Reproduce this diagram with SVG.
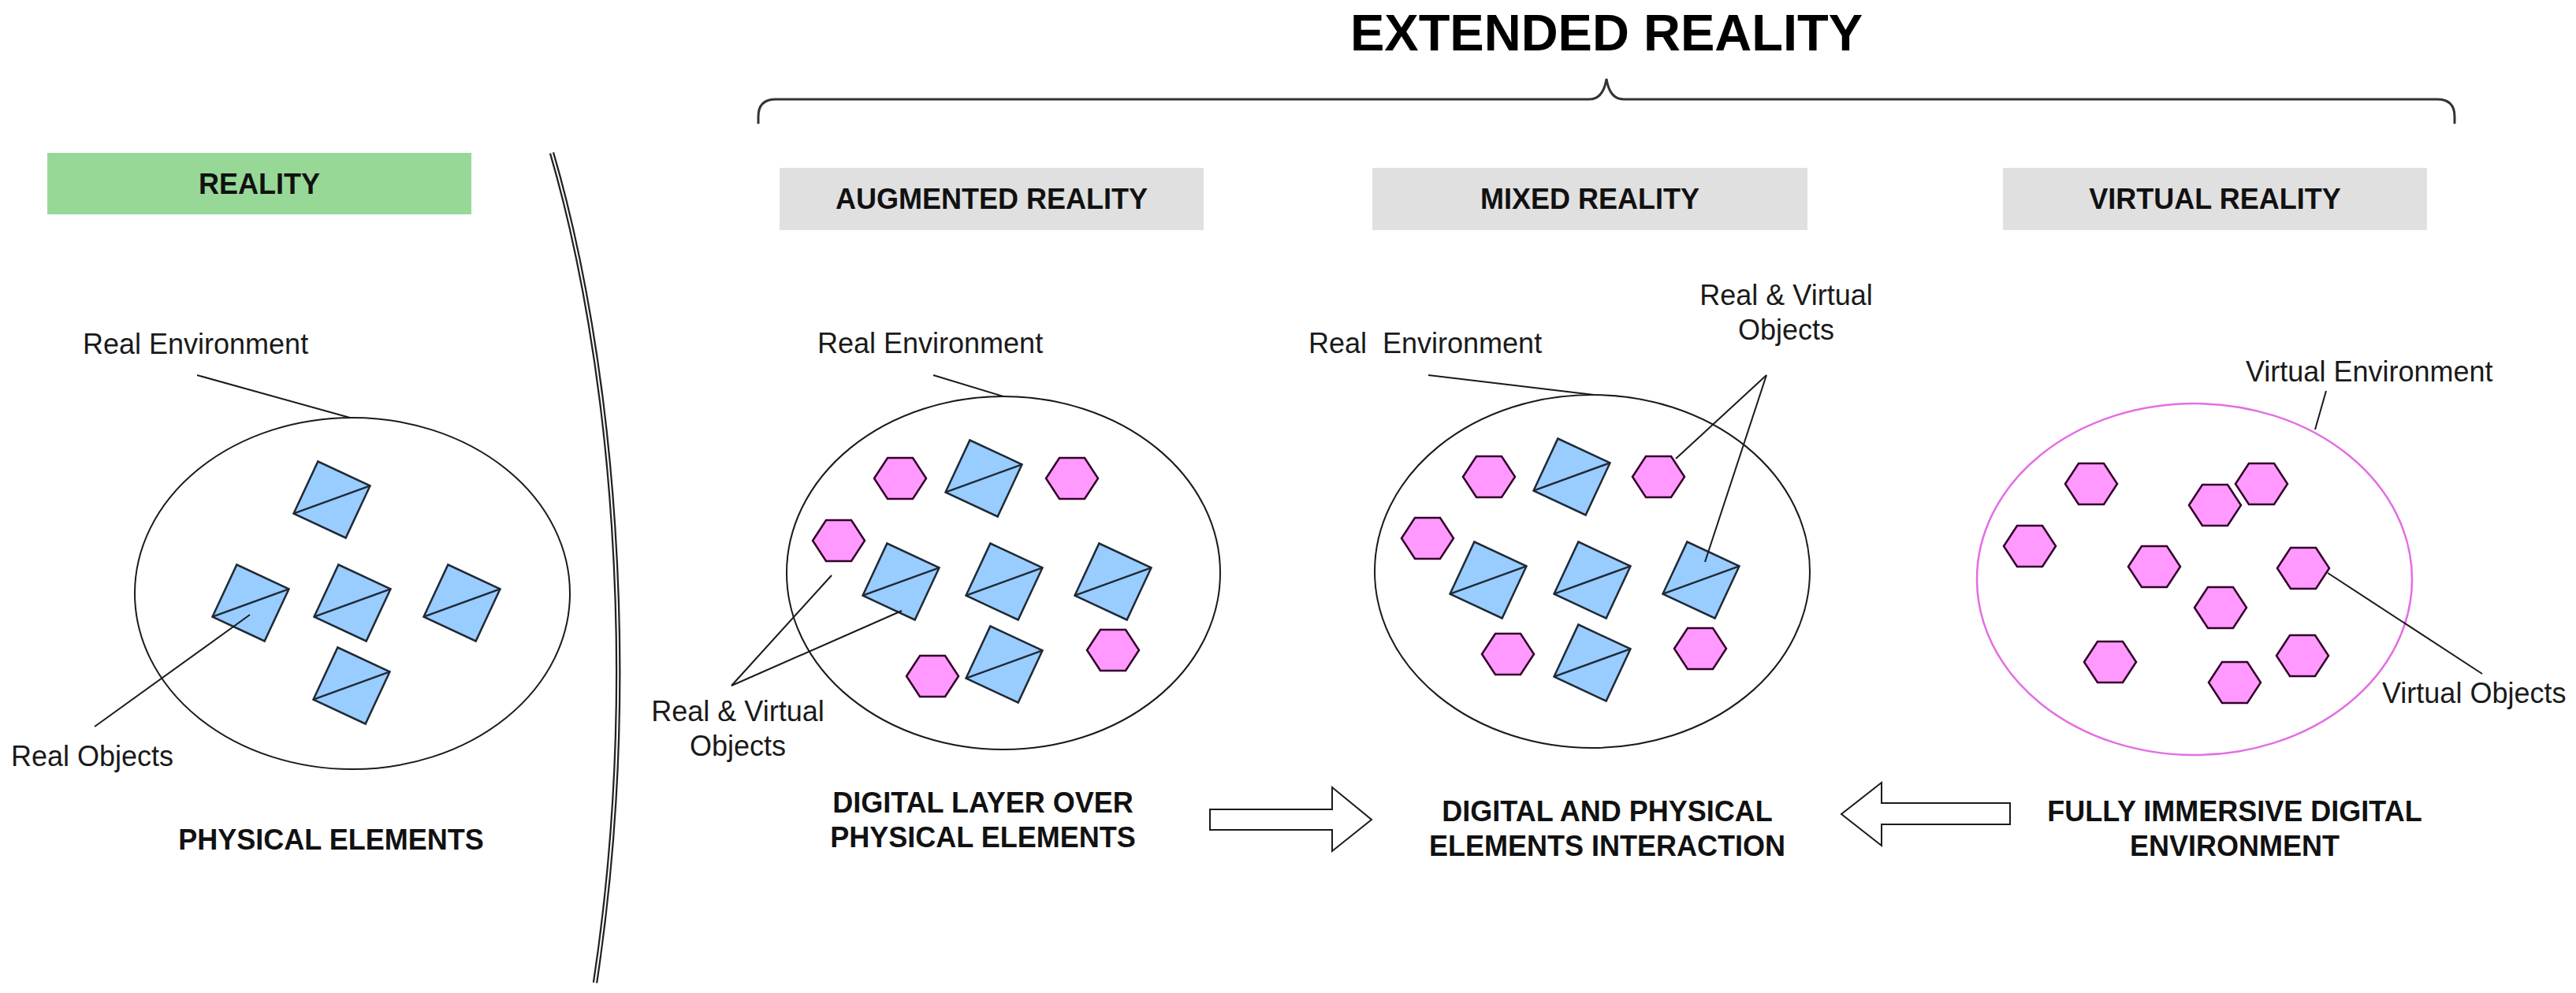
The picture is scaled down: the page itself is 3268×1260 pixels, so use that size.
<svg xmlns="http://www.w3.org/2000/svg" xmlns:xlink="http://www.w3.org/1999/xlink" width="3268" height="1260" viewBox="0 0 3268 1260">
<style>
text{font-family:"Liberation Sans",Arial,sans-serif;}
.lbl{font-size:36px;fill:#1a1a1a;}
.hdr{font-size:36px;font-weight:bold;fill:#111;text-anchor:middle;}
.ttl{font-size:65px;font-weight:bold;fill:#000;text-anchor:middle;}
.env{fill:none;stroke:#1a1a1a;stroke-width:2;}
.venv{fill:none;stroke:#e36ee3;stroke-width:2.5;}
.lead{stroke:#1a1a1a;stroke-width:2;fill:none;}
.sq rect{fill:#99ccff;stroke:#1f2a36;stroke-width:2.5;}
.sq line{stroke:#1f2a36;stroke-width:2.5;}
.hex{fill:#ff99ff;stroke:#33002a;stroke-width:2.5;}
.arr{fill:#fff;stroke:#1a1a1a;stroke-width:2;}
</style>
<defs>
<g id="sqs" class="sq"><rect x="-36.5" y="-36.5" width="73" height="73"/><line x1="-36.5" y1="36.5" x2="36.5" y2="-36.5"/></g>
<polygon id="hx" class="hex" points="-33,0 -16,-26 16,-26 33,0 16,26 -16,26"/>
</defs>
<rect width="3268" height="1260" fill="#fff"/>

<g id="title">
<text class="ttl" x="2038" y="64">EXTENDED REALITY</text>
<path d="M962,157 L962,148 Q962,126 984,126 L2016,126 Q2034,126 2038,100 Q2042,126 2060,126 L3092,126 Q3114,126 3114,148 L3114,157" fill="none" stroke="#333" stroke-width="3"/>
</g>

<g id="divider">
<path d="M700,194 C775,450 815,850 755,1247" fill="none" stroke="#222" stroke-width="6.5"/>
<path d="M700,194 C775,450 815,850 755,1247" fill="none" stroke="#fff" stroke-width="2"/>
</g>

<g id="reality">
<rect x="60" y="194" width="538" height="78" fill="#97d897"/>
<text class="hdr" x="329" y="246">REALITY</text>
<text class="lbl" x="105" y="449">Real Environment</text>
<ellipse class="env" cx="447" cy="753" rx="276" ry="223"/>
<use xlink:href="#sqs" transform="translate(421,634) rotate(25)"/>
<use xlink:href="#sqs" transform="translate(318,765) rotate(25)"/>
<use xlink:href="#sqs" transform="translate(447,765) rotate(25)"/>
<use xlink:href="#sqs" transform="translate(586,765) rotate(25)"/>
<use xlink:href="#sqs" transform="translate(446,870) rotate(25)"/>
<text class="lbl" x="14" y="972">Real Objects</text>
<text class="hdr" x="420" y="1078">PHYSICAL ELEMENTS</text>
</g>

<g id="augmented">
<rect x="989" y="213" width="538" height="79" fill="#e0e0e0"/>
<text class="hdr" x="1258" y="265">AUGMENTED REALITY</text>
<text class="lbl" x="1037" y="448">Real Environment</text>
<ellipse class="env" cx="1273" cy="727" rx="275" ry="224"/>
<use xlink:href="#hx" x="1142" y="607"/>
<use xlink:href="#hx" x="1360" y="607"/>
<use xlink:href="#hx" x="1064" y="686"/>
<use xlink:href="#hx" x="1183" y="858"/>
<use xlink:href="#hx" x="1412" y="825"/>
<use xlink:href="#sqs" transform="translate(1248,607) rotate(25)"/>
<use xlink:href="#sqs" transform="translate(1143,738) rotate(25)"/>
<use xlink:href="#sqs" transform="translate(1274,738) rotate(25)"/>
<use xlink:href="#sqs" transform="translate(1412,738) rotate(25)"/>
<use xlink:href="#sqs" transform="translate(1274,843) rotate(25)"/>
<text class="lbl" x="936" y="915" text-anchor="middle">Real &amp; Virtual</text>
<text class="lbl" x="936" y="959" text-anchor="middle">Objects</text>
<text class="hdr" x="1247" y="1031">DIGITAL LAYER OVER</text>
<text class="hdr" x="1247" y="1075">PHYSICAL ELEMENTS</text>
</g>

<g id="mixed">
<rect x="1741" y="213" width="552" height="79" fill="#e0e0e0"/>
<text class="hdr" x="2017" y="265">MIXED REALITY</text>
<text class="lbl" x="1660" y="448" xml:space="preserve">Real  Environment</text>
<text class="lbl" x="2266" y="387" text-anchor="middle">Real &amp; Virtual</text>
<text class="lbl" x="2266" y="431" text-anchor="middle">Objects</text>
<ellipse class="env" cx="2020" cy="725" rx="276" ry="224"/>
<use xlink:href="#hx" x="1889" y="605"/>
<use xlink:href="#hx" x="2104" y="605"/>
<use xlink:href="#hx" x="1811" y="683"/>
<use xlink:href="#hx" x="1913" y="830"/>
<use xlink:href="#hx" x="2157" y="823"/>
<use xlink:href="#sqs" transform="translate(1994,605) rotate(25)"/>
<use xlink:href="#sqs" transform="translate(1888,736) rotate(25)"/>
<use xlink:href="#sqs" transform="translate(2020,736) rotate(25)"/>
<use xlink:href="#sqs" transform="translate(2158,736) rotate(25)"/>
<use xlink:href="#sqs" transform="translate(2020,841) rotate(25)"/>
<text class="hdr" x="2039" y="1042">DIGITAL AND PHYSICAL</text>
<text class="hdr" x="2039" y="1086">ELEMENTS INTERACTION</text>
</g>

<g id="virtual">
<rect x="2541" y="213" width="538" height="79" fill="#e0e0e0"/>
<text class="hdr" x="2810" y="265">VIRTUAL REALITY</text>
<text class="lbl" x="2849" y="484">Virtual Environment</text>
<ellipse class="venv" cx="2784" cy="735" rx="276" ry="223"/>
<use xlink:href="#hx" x="2653" y="614"/>
<use xlink:href="#hx" x="2869" y="614"/>
<use xlink:href="#hx" x="2810" y="641"/>
<use xlink:href="#hx" x="2575" y="693"/>
<use xlink:href="#hx" x="2733" y="719"/>
<use xlink:href="#hx" x="2922" y="721"/>
<use xlink:href="#hx" x="2817" y="771"/>
<use xlink:href="#hx" x="2677" y="840"/>
<use xlink:href="#hx" x="2921" y="832"/>
<use xlink:href="#hx" x="2835" y="866"/>
<text class="lbl" x="3022" y="892">Virtual Objects</text>
<text class="hdr" x="2835" y="1042">FULLY IMMERSIVE DIGITAL</text>
<text class="hdr" x="2835" y="1086">ENVIRONMENT</text>
</g>

<g id="connectors">
<line class="lead" x1="250" y1="476" x2="444" y2="530"/>
<line class="lead" x1="317" y1="780" x2="120" y2="922"/>
<line class="lead" x1="1184" y1="476" x2="1273" y2="503"/>
<line class="lead" x1="928" y1="870" x2="1055" y2="730"/>
<line class="lead" x1="928" y1="870" x2="1144" y2="775"/>
<line class="lead" x1="1812" y1="476" x2="2022" y2="501"/>
<line class="lead" x1="2241" y1="476" x2="2126" y2="582"/>
<line class="lead" x1="2241" y1="476" x2="2163" y2="713"/>
<line class="lead" x1="2951" y1="496" x2="2937" y2="545"/>
<line class="lead" x1="2953" y1="727" x2="3149" y2="855"/>
<polygon class="arr" points="1535,1027 1690,1027 1690,999 1740,1040 1690,1080 1690,1053 1535,1053"/>
<polygon class="arr" points="2550,1019 2387,1019 2387,993 2336,1033 2387,1073 2387,1046 2550,1046"/>
</g>
</svg>
